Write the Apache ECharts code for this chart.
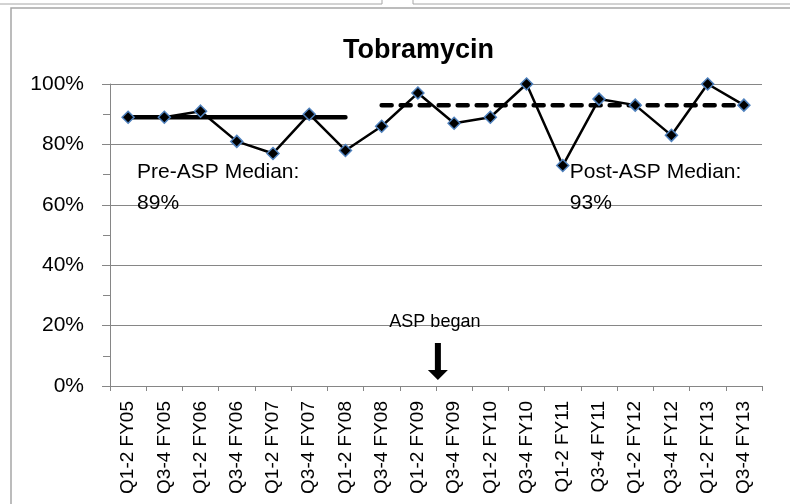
<!DOCTYPE html>
<html>
<head>
<meta charset="utf-8">
<script src="https://cdn.jsdelivr.net/npm/echarts@6/dist/echarts.min.js"></script>
<style>
  html, body { margin: 0; padding: 0; background: #fff; }
  #chart { width: 790px; height: 504px; }
</style>
</head>
<body>
<div id="chart"></div>
<script>
// half-year periods
const categories = [
  'Q1-2 FY05', 'Q3-4 FY05', 'Q1-2 FY06', 'Q3-4 FY06', 'Q1-2 FY07', 'Q3-4 FY07',
  'Q1-2 FY08', 'Q3-4 FY08', 'Q1-2 FY09', 'Q3-4 FY09', 'Q1-2 FY10', 'Q3-4 FY10',
  'Q1-2 FY11', 'Q3-4 FY11', 'Q1-2 FY12', 'Q3-4 FY12', 'Q1-2 FY13', 'Q3-4 FY13'
];
const rates = [89, 89, 91, 81, 77, 90, 78, 86, 97, 87, 89, 100, 73, 95, 93, 83, 100, 93];

const preMedian = 89;
const postMedian = 93;
const preLast = 'Q1-2 FY08';   // last period drawn with the pre-ASP median
const postFirst = 'Q3-4 FY08'; // first period drawn with the post-ASP median
const aspAfter = 'Q1-2 FY09';  // ASP began right after this period

const yMin = 0;
const yMax = 100;
const yStep = 20;

const FONT = 'Liberation Sans';
const GRAY = '#868686';

const preIdx = categories.indexOf(preLast);
const postIdx = categories.indexOf(postFirst);
const aspIdx = categories.indexOf(aspAfter);

const preLine = categories.map((c, i) => (i <= preIdx ? preMedian : null));
const postLine = categories.map((c, i) => (i >= postIdx ? postMedian : null));

const chart = echarts.init(document.getElementById('chart'), null, { renderer: 'canvas' });

chart.setOption({
  animation: false,
  backgroundColor: '#fff',
  textStyle: { fontFamily: FONT },
  title: {
    text: 'Tobramycin',
    left: 343,
    top: 37,
    padding: 0,
    textStyle: { fontFamily: FONT, fontSize: 27, fontWeight: 'bold', color: '#000' }
  },
  graphic: [
    // neighbouring boxes of the slide and the chart frame
    { type: 'rect', shape: { x: -5, y: -20, width: 387, height: 24 }, style: { fill: 'none', stroke: '#a6a6a6', lineWidth: 1 } },
    { type: 'rect', shape: { x: 413, y: -20, width: 400, height: 24 }, style: { fill: 'none', stroke: '#a6a6a6', lineWidth: 1 } },
    { type: 'rect', shape: { x: 11, y: 8, width: 800, height: 520 }, style: { fill: 'none', stroke: '#a6a6a6', lineWidth: 1.5 } }
  ],
  grid: { left: 110, right: 28, top: 84, bottom: 118 },
  xAxis: {
    type: 'category',
    data: categories,
    boundaryGap: true,
    axisLine: { lineStyle: { color: GRAY, width: 1 } },
    axisTick: { show: true, length: 5, lineStyle: { color: GRAY } },
    axisLabel: {
      rotate: 90,
      interval: 0,
      margin: 15,
      fontFamily: FONT,
      fontSize: 19,
      color: '#000'
    },
    splitLine: { show: false }
  },
  yAxis: {
    type: 'value',
    min: yMin,
    max: yMax,
    interval: yStep,
    axisLine: { show: true, lineStyle: { color: GRAY, width: 1 } },
    axisTick: { show: true, length: 8, lineStyle: { color: GRAY } },
    minorTick: { show: true, splitNumber: 2, length: 7, lineStyle: { color: GRAY } },
    axisLabel: {
      formatter: '{value}%',
      margin: 26,
      fontFamily: FONT,
      fontSize: 21,
      color: '#000'
    },
    splitLine: { show: true, lineStyle: { color: GRAY, width: 1 } }
  },
  series: [
    {
      name: 'Pre-ASP Median',
      type: 'line',
      data: preLine,
      symbol: 'none',
      z: 2,
      lineStyle: { color: '#000', width: 4.5, cap: 'round' },
      markPoint: {
        symbol: 'circle',
        symbolSize: 0,
        data: [{
          coord: [0, 65.6],
          label: {
            show: true,
            position: 'inside',
            align: 'left',
            verticalAlign: 'middle',
            offset: [9, 0],
            lineHeight: 31,
            fontFamily: FONT,
            fontSize: 21,
            color: '#000',
            formatter: 'Pre-ASP Median:\n' + preMedian + '%'
          }
        }]
      }
    },
    {
      name: 'Post-ASP Median',
      type: 'line',
      data: postLine,
      symbol: 'none',
      z: 2,
      lineStyle: { color: '#000', width: 4.5, type: [10, 9], cap: 'round' },
      markPoint: {
        symbol: 'circle',
        symbolSize: 0,
        data: [{
          coord: [12, 65.6],
          label: {
            show: true,
            position: 'inside',
            align: 'left',
            verticalAlign: 'middle',
            offset: [7, 0],
            lineHeight: 31,
            fontFamily: FONT,
            fontSize: 21,
            color: '#000',
            formatter: 'Post-ASP Median:\n' + postMedian + '%'
          }
        }]
      }
    },
    {
      name: 'Tobramycin',
      type: 'line',
      data: rates,
      z: 5,
      symbol: 'diamond',
      symbolSize: 12,
      showAllSymbol: true,
      lineStyle: { color: '#000', width: 2.5 },
      itemStyle: { color: '#000', borderColor: '#4f81bd', borderWidth: 1.5 },
      markPoint: {
        silent: true,
        data: [
          {
            // "ASP began" note, centred on the boundary after aspAfter
            coord: [aspIdx, 21.2],
            symbol: 'circle',
            symbolSize: 0,
            label: {
              show: true,
              position: 'inside',
              align: 'center',
              verticalAlign: 'middle',
              offset: [17, 0],
              fontFamily: FONT,
              fontSize: 18,
              color: '#000',
              formatter: 'ASP began'
            }
          },
          {
            coord: [aspIdx, 8.1],
            symbol: 'path://M7,0 L13,0 L13,27 L20,27 L10,37 L0,27 L7,27 Z',
            symbolSize: [20, 37],
            symbolOffset: [20, 0],
            itemStyle: { color: '#000', borderWidth: 0 },
            label: { show: false }
          }
        ]
      }
    }
  ]
});
</script>
</body>
</html>
